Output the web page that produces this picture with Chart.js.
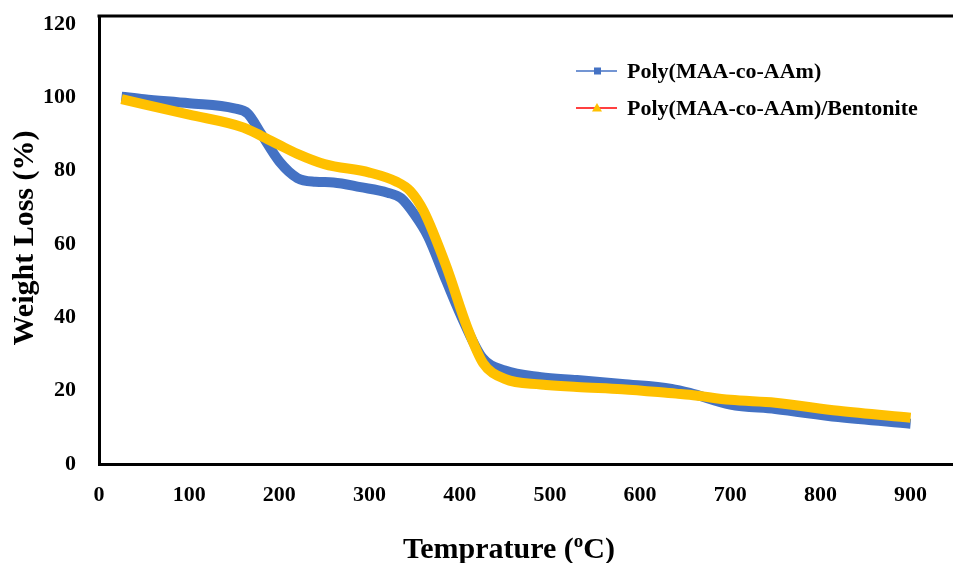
<!DOCTYPE html>
<html>
<head>
<meta charset="utf-8">
<script src="https://cdn.jsdelivr.net/npm/chart.js@4"></script>
<style>
  body { margin: 0; background: #fff; }
  #wrap { width: 953px; height: 563px; }
</style>
</head>
<body>
<div id="wrap"><canvas id="tgaChart" width="953" height="563"></canvas></div>
<script>
// data (temperature in oC, weight in %)
const tempPlain = [25, 50, 100, 150, 165, 180, 200, 220, 240, 260, 290, 320, 335, 350, 365, 385, 405, 425, 450, 490, 530, 580, 635, 655, 700, 750, 820, 900];
const weightPlain = [100.2, 99.5, 98.4, 97, 95.6, 90, 82.5, 78, 77, 76.8, 75.5, 74, 72.5, 68, 62, 50, 38.5, 29, 25.5, 23.7, 22.9, 21.8, 20.5, 19.4, 16.2, 15, 12.8, 11];

const tempBent = [25, 100, 160, 180, 200, 220, 250, 300, 330, 345, 360, 385, 408, 426, 450, 490, 530, 580, 640, 655, 700, 750, 820, 900];
const weightBent = [99.5, 95.3, 91.8, 89.5, 87, 84.6, 81.8, 79.5, 77, 74.5, 69, 54, 37.5, 27.5, 23.2, 21.7, 21, 20.4, 19.2, 18.9, 17.5, 16.7, 14.5, 12.6];

const xTicks = [0, 100, 200, 300, 400, 500, 600, 700, 800, 900];
const yTicks = [0, 20, 40, 60, 80, 100, 120];

const seriesNames = ['Poly(MAA-co-AAm)', 'Poly(MAA-co-AAm)/Bentonite'];

const BLUE = '#4472C4';
const GOLD = '#FFC000';
const FONT = '"Liberation Serif", "Times New Roman", serif';

function toPoints(xs, ys) {
  return xs.map((x, i) => ({ x: x, y: ys[i] }));
}

// top frame line, titles + legend drawn by hand (superscript o in the x title)
const extras = {
  id: 'extras',
  afterDraw(chart) {
    const c = chart.ctx;
    const a = chart.chartArea;
    c.save();

    c.strokeStyle = '#000';
    c.lineWidth = 3;
    c.beginPath();
    c.moveTo(a.left - 1.5, a.top);
    c.lineTo(chart.width, a.top);
    c.stroke();

    c.fillStyle = '#000';

    // y title
    c.font = 'bold 30px ' + FONT;
    c.textAlign = 'center';
    c.textBaseline = 'middle';
    c.translate(25, 238);
    c.rotate(-Math.PI / 2);
    c.fillText('Weight Loss (%)', 0, 0);
    c.setTransform(1, 0, 0, 1, 0, 0);

    // x title with superscript
    const big = 'bold 30px ' + FONT;
    const small = 'bold 19px ' + FONT;
    const p1 = 'Temprature (', p2 = 'o', p3 = 'C)';
    c.textAlign = 'left';
    c.textBaseline = 'alphabetic';
    c.font = big;
    const w1 = c.measureText(p1).width, w3 = c.measureText(p3).width;
    c.font = small;
    const w2 = c.measureText(p2).width;
    let x = 509 - (w1 + w2 + w3) / 2;
    const base = 558;
    c.font = big; c.fillText(p1, x, base); x += w1;
    c.font = small; c.fillText(p2, x, base - 11); x += w2;
    c.font = big; c.fillText(p3, x, base);

    // legend
    const rows = [
      { y: 71, line: BLUE, mark: BLUE, shape: 'square' },
      { y: 108, line: '#FF0000', mark: GOLD, shape: 'triangle' }
    ];
    rows.forEach((r, i) => {
      c.strokeStyle = r.line;
      c.lineWidth = 1.5;
      c.beginPath();
      c.moveTo(576, r.y);
      c.lineTo(617, r.y);
      c.stroke();
      c.fillStyle = r.mark;
      if (r.shape === 'square') {
        c.fillRect(594, r.y - 3.5, 7, 7);
      } else {
        c.beginPath();
        c.moveTo(597, r.y - 5);
        c.lineTo(602, r.y + 3.5);
        c.lineTo(592, r.y + 3.5);
        c.closePath();
        c.fill();
      }
      c.fillStyle = '#000';
      c.font = 'bold 22px ' + FONT;
      c.textBaseline = 'middle';
      c.fillText(seriesNames[i], 627, r.y + 1);
    });
    c.restore();
  }
};

new Chart(document.getElementById('tgaChart'), {
  type: 'line',
  data: {
    datasets: [
      {
        label: seriesNames[0],
        data: toPoints(tempPlain, weightPlain),
        borderColor: BLUE,
        borderWidth: 10,
        pointRadius: 0,
        cubicInterpolationMode: 'monotone',
        order: 2
      },
      {
        label: seriesNames[1],
        data: toPoints(tempBent, weightBent),
        borderColor: GOLD,
        borderWidth: 10,
        pointRadius: 0,
        cubicInterpolationMode: 'monotone',
        order: 1
      }
    ]
  },
  options: {
    responsive: false,
    animation: false,
    layout: { autoPadding: false, padding: { top: 16, left: 0, right: 0, bottom: 0 } },
    plugins: { legend: { display: false }, tooltip: { enabled: false } },
    scales: {
      x: {
        type: 'linear',
        min: 0,
        max: 947,
        grid: { display: false },
        border: { display: true, color: '#000', width: 3 },
        afterBuildTicks: s => { s.ticks = xTicks.map(v => ({ value: v })); },
        afterFit: s => { s.height = 99; s.paddingLeft = 0; s.paddingRight = 0; },
        ticks: {
          color: '#000',
          padding: 10,
          maxRotation: 0,
          font: { family: FONT, size: 22, weight: 'bold' }
        }
      },
      y: {
        min: 0,
        max: 122.2,
        grid: { display: false },
        border: { display: true, color: '#000', width: 3 },
        afterBuildTicks: s => { s.ticks = yTicks.map(v => ({ value: v })); },
        afterFit: s => { s.width = 99; s.paddingTop = 0; s.paddingBottom = 0; },
        ticks: {
          color: '#000',
          padding: 15,
          font: { family: FONT, size: 22, weight: 'bold' }
        }
      }
    }
  },
  plugins: [extras]
});
</script>
</body>
</html>
